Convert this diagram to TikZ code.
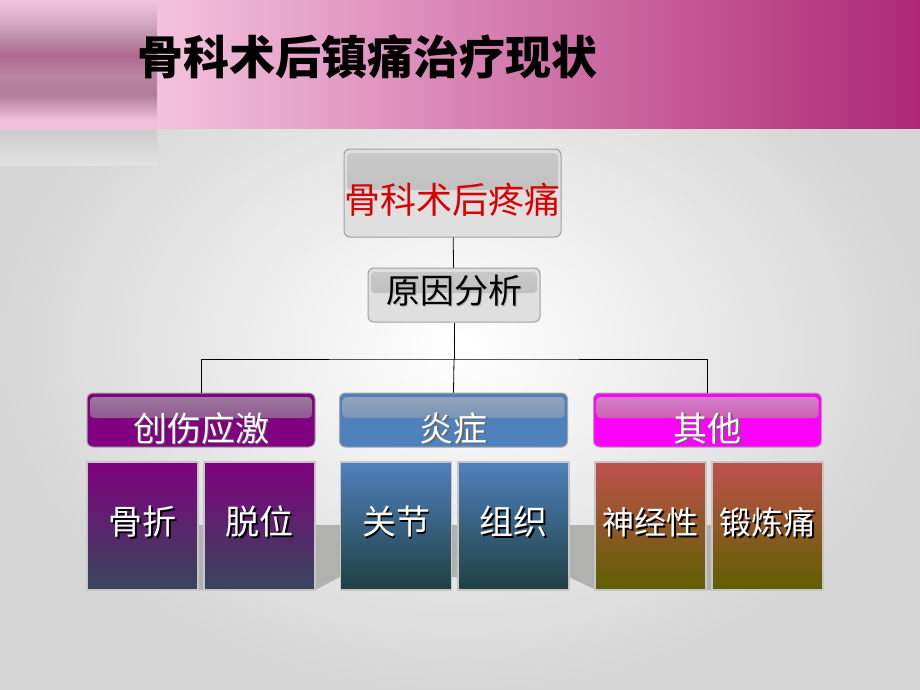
\documentclass[tikz,border=0pt]{standalone}
\usepackage{fontspec}
\setmainfont{Noto Sans CJK SC}
\usetikzlibrary{calc}

\definecolor{headL}{HTML}{F4C2DE}
\definecolor{headR}{HTML}{AE2876}
\definecolor{painred}{HTML}{D80000}
\definecolor{boxgray}{HTML}{DFDFDF}
\definecolor{glossgray}{HTML}{B4B4B4}
\definecolor{bandgray}{HTML}{B1B1AD}
\definecolor{trauma}{HTML}{800080}
\definecolor{inflam}{HTML}{4F81BD}
\definecolor{other}{HTML}{FF00FF}
\definecolor{purpbot}{HTML}{36485A}
\definecolor{bluebot}{HTML}{1F4042}
\definecolor{redtop}{HTML}{C0504D}
\definecolor{olivebot}{HTML}{5E6000}

\definecolor{lbA}{HTML}{E2E2E2}
\definecolor{lbB}{HTML}{CFCBCD}
\definecolor{lbC}{HTML}{F2C0DC}
\definecolor{lbD}{HTML}{D4A4C0}
\definecolor{lbE}{HTML}{B27C9A}
\definecolor{lbF}{HTML}{B8849E}
\definecolor{lbG}{HTML}{B06890}
\definecolor{lbH}{HTML}{B88AA4}
\definecolor{lbI}{HTML}{D8ACC4}
\definecolor{lbJ}{HTML}{F4C4DE}

% stops in the 25bp--75bp window that tikz fits to the path
\pgfdeclareverticalshading{leftblur}{100bp}{%
  color(0bp)=(lbA); color(25bp)=(lbA); color(35.6bp)=(lbB); color(36.2bp)=(lbC);
  color(38.6bp)=(lbC); color(41.7bp)=(lbD); color(46.2bp)=(lbE); color(52.3bp)=(lbF);
  color(58.3bp)=(lbG); color(62.9bp)=(lbH); color(68.9bp)=(lbI); color(75bp)=(lbJ);
  color(100bp)=(lbJ)}

\newcommand{\shadowtxt}[2]{\makebox[0pt][l]{\hspace{1.6pt}\raisebox{-1.6pt}{\color{#1}#2}}#2}

\begin{document}
\begin{tikzpicture}[x=1pt,y=-1pt,
    cjk/.style={font=\fontsize{34pt}{40pt}\selectfont, inner sep=0pt},
    gloss/.style n args={3}{path picture={
        \shade[top color=#1, bottom color=#2, rounded corners=4pt]
          ([shift={(3pt,-4pt)}]path picture bounding box.north west) rectangle
          ([shift={(-3pt,-#3)}]path picture bounding box.north east);}},
    topbox/.style={cjk, draw=gray!75, line width=1pt, rounded corners=6pt, fill=boxgray},
    catbox/.style={cjk, draw=gray!70, line width=1pt, rounded corners=6pt, text=white,
        minimum width=228pt, minimum height=54pt, text height=42pt, text depth=0pt},
    leafbox/.style={cjk, draw=gray!45, line width=1.3pt, text=white,
        minimum width=111pt, minimum height=128pt, text height=17pt, text depth=0pt},
    narrow/.style={font=\fontsize{32pt}{40pt}\selectfont},
    link/.style={draw=black, line width=0.8pt}]

    \useasboundingbox (0,0) rectangle (920,690);
    \shade[inner color=white, outer color=black!16] (0,0) rectangle (920,690);
    \shade[left color=headL, right color=headR] (157,0) rectangle (920,128);
    \shade[shading=leftblur] (0,0) rectangle (157,165);

    \node[anchor=base, font=\fontsize{46pt}{50pt}\selectfont\bfseries, inner sep=0pt] (title) at (367,75) {骨科术后镇痛治疗现状};

    % back band behind the leaves
    \fill[bandgray] (90,525) -- (820,525) -- (820,590) -- (596,590) -- (569,577)
                    -- (340,577) -- (315,590) -- (90,590) -- cycle;

    \node[topbox, gloss={glossgray!70}{glossgray}{41pt}, text=painred, font=\fontsize{36pt}{40pt}\selectfont,
          minimum width=217pt, minimum height=88pt, text height=40pt, text depth=0pt] (pain) at (452.5,193) {骨科术后疼痛};
    \node[topbox, gloss={glossgray!70}{glossgray}{25pt},
          minimum width=172pt, minimum height=54pt, text height=16pt, text depth=0pt] (cause) at (454,295) {\shadowtxt{black!30}{原因分析}};

    \node[catbox, fill=trauma, gloss={trauma!35!gray!75!white}{trauma!65!gray}{25pt}] (trauma) at (201,420) {\shadowtxt{black!60}{创伤应激}};
    \node[catbox, fill=inflam, gloss={inflam!45!gray!70!white}{inflam!85!gray}{25pt}] (inflam) at (453.5,420) {\shadowtxt{black!60}{炎症}};
    \node[catbox, fill=other, gloss={other!45!gray!65!white}{other!55!red!60!gray}{25pt}] (other) at (707.5,420) {\shadowtxt{black!60}{其他}};

    \node[leafbox, top color=trauma, bottom color=purpbot] (frac) at (142.5,526) {\shadowtxt{black}{骨折}};
    \node[leafbox, top color=trauma, bottom color=purpbot] (disloc) at (259.5,526) {\shadowtxt{black}{脱位}};
    \node[leafbox, top color=inflam, bottom color=bluebot] (joint) at (396,526) {\shadowtxt{black}{关节}};
    \node[leafbox, top color=inflam, bottom color=bluebot] (tissue) at (513.5,526) {\shadowtxt{black}{组织}};
    \node[leafbox, narrow, top color=redtop, bottom color=olivebot] (nerve) at (650.5,526) {\shadowtxt{black}{神经性}};
    \node[leafbox, narrow, top color=redtop, bottom color=olivebot] (exer) at (767.5,526) {\shadowtxt{black}{锻炼痛}};

    \coordinate (fork) at (454,359);
    \draw[link] (pain) -- (cause);
    \draw[link] (cause) -- (fork);
    \draw[link] (trauma.north) |- (fork) -| (other.north);
    \draw[link] (fork) -- (inflam.north);

\end{tikzpicture}
\end{document}
